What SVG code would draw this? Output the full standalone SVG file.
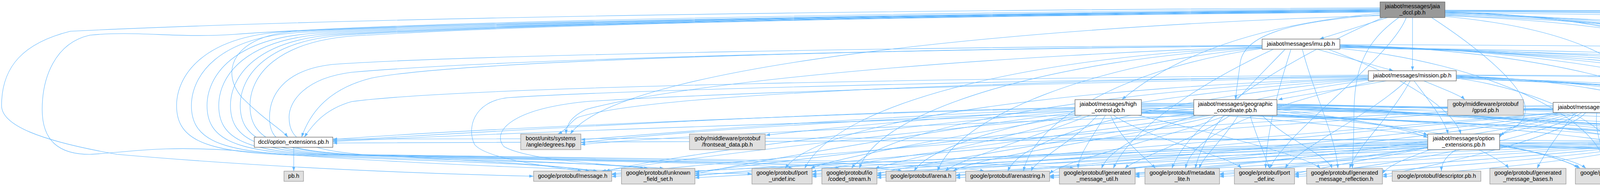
<svg xmlns="http://www.w3.org/2000/svg" width="7600" height="476" viewBox="0 0 7600 476">
<defs>
<marker id="a" viewBox="0 0 10 7" refX="10" refY="3.5" markerWidth="11" markerHeight="8" markerUnits="userSpaceOnUse" orient="auto"><path d="M0,0L10,3.5L0,7z" fill="#63b8ff"/></marker>
<style>
.e path{fill:none;stroke:#63b8ff;stroke-width:1.1;marker-end:url(#a)}
.w{fill:#ffffff;stroke:#666666;stroke-width:1.3}
.g{fill:#e0e0e0;stroke:#999999;stroke-width:1.3}
.r{fill:#999999;stroke:#666666;stroke-width:1.3}
text{font-family:"Liberation Sans",Arial,sans-serif;font-size:14.67px;fill:#000000;text-anchor:middle}
.l{text-anchor:start}
</style>
</defs>
<rect width="7600" height="476" fill="#ffffff"/>
<g id="edges" class="e">
<path d="M3552,45 C3500,62 3430,83 3378,100"/>
<path d="M3616,45 L3616,181"/>
<path d="M3533,34 C3250,60 3020,130 2872,255"/>
<path d="M3533,38 C3300,55 3185,90 3175,160 C3170,200 3165,230 3163,255"/>
<path d="M3581,45 C3490,110 3466,180 3466,300 C3466,380 3462,410 3462,431"/>
<path d="M3665,45 C3780,120 3905,220 3905,280 C3905,320 3860,336 3839,346"/>
<path d="M3699,36 C4000,45 4370,70 4375,160 C4378,230 4260,250 4191,261"/>
<path d="M3699,40 C4050,55 4400,90 4400,200 C4400,280 4310,320 4283,351"/>
<path d="M3699,42 C4000,70 4200,150 4210,270 C4215,350 4150,380 4135,431"/>
<path d="M3699,27 C5000,30 6600,50 7411,95"/>
<path d="M3533,24 C2500,35 1200,55 760,80 C600,90 560,180 620,250 C680,310 720,330 737,351"/>
<path d="M3533,20 C2500,25 1000,40 180,80 C60,110 4,170 4,270 C4,320 100,360 300,395 C700,430 1100,445 1366,451"/>
<path d="M3533,22 C2600,30 1100,50 600,88 C450,98 350,78 230,90 C140,110 108,200 108,280 C108,360 150,395 230,395 C330,390 400,372 600,385 C1000,420 1600,440 1925,445"/>
<path d="M3533,25 C2400,35 1400,55 752,80 C512,88 452,200 452,270 C452,350 512,385 702,395 C1000,410 1400,415 1510,438"/>
<path d="M3533,26 C2400,36 1400,56 790,82 C550,90 490,200 490,270 C490,350 550,385 740,395 C1100,410 1550,415 1650,431"/>
<path d="M3533,27 C2400,37 1400,57 830,84 C590,92 530,200 530,270 C530,350 590,385 780,395 C1300,410 1930,415 2030,431"/>
<path d="M3533,28 C2400,38 1400,58 860,86 C620,94 560,200 560,270 C560,350 620,385 810,395 C1400,410 2050,415 2150,431"/>
<path d="M3533,29 C2400,39 1400,59 890,87 C650,95 590,200 590,270 C590,350 650,385 840,395 C1500,410 2210,415 2310,438"/>
<path d="M3533,30 C2400,40 1400,60 915,88 C675,96 615,200 615,270 C615,350 675,385 865,395 C1700,410 2420,415 2520,438"/>
<path d="M3533,31 C2400,41 1400,61 940,90 C700,98 640,200 640,270 C640,350 700,385 890,395 C1900,410 2650,415 2750,431"/>
<path d="M3540,45 C3300,150 3050,300 3000,431"/>
<path d="M3600,45 C3560,150 3300,330 3250,431"/>
<path d="M3699,30 C4300,45 4600,200 4500,438"/>
<path d="M3699,31 C4400,50 4800,250 4720,438"/>
<path d="M3699,33 C4500,50 4950,250 4930,431"/>
<path d="M3699,34 C4600,50 5150,250 5140,431"/>
<path d="M3699,37 C4800,60 5600,200 5800,343"/>
<path d="M3533,40 C2800,60 1600,150 1460,343"/>
<path d="M3699,39 C4600,70 5200,200 5300,343"/>
<path d="M3699,26 C5000,28 6500,45 6900,70 C7300,90 7370,200 7370,300 C7370,380 7000,420 6300,435 C6000,442 5900,448 5808,451"/>
<path d="M3699,28 C5000,35 6400,70 6800,95 C7000,110 7040,200 7040,300 C7040,380 6700,405 6200,415 C5900,420 5650,425 5585,438"/>
<path d="M3699,29 C5000,40 6300,80 6700,110 C6950,130 6990,200 6990,290 C6990,370 6500,400 6000,410 C5700,415 5500,420 5470,431"/>
<path d="M3699,32 C5000,45 6200,100 6600,150 C6750,170 6770,250 6770,300 C6770,370 6300,395 5700,400 C5500,405 5330,420 5290,438"/>
<path d="M3372,126 L3567,181"/>
<path d="M3231,118 C2400,125 1200,150 950,200 C830,230 790,300 772,351"/>
<path d="M3231,120 C2600,140 1800,200 1500,280 C1460,300 1450,320 1449,343"/>
<path d="M3231,116 C2400,120 1200,140 850,165 C720,180 690,250 690,300 C690,360 720,385 900,395 C1200,410 1400,420 1530,438"/>
<path d="M3231,117 C2400,125 1300,150 900,185 C780,200 740,260 740,300 C740,360 780,390 1000,400 C1300,410 1550,420 1700,431"/>
<path d="M3231,121 C2700,140 2150,250 2060,431"/>
<path d="M3231,122 C2700,150 2250,280 2200,431"/>
<path d="M3231,123 C2800,160 2450,300 2400,438"/>
<path d="M3231,124 C2900,170 2650,300 2620,438"/>
<path d="M3260,126 C3100,200 2900,320 2850,431"/>
<path d="M3290,126 C3200,220 3080,330 3060,431"/>
<path d="M3334,126 C3360,230 3420,350 3425,431"/>
<path d="M3305,126 C3265,250 3242,350 3240,431"/>
<path d="M3430,124 C3800,160 4100,300 4110,431"/>
<path d="M3430,115 C4000,130 4450,250 4470,438"/>
<path d="M3430,116 C4100,130 4650,250 4680,438"/>
<path d="M3430,117 C4200,135 4850,250 4890,431"/>
<path d="M3430,118 C4300,140 5050,250 5100,431"/>
<path d="M3430,119 C4500,140 5500,250 5760,343"/>
<path d="M3430,120 C4600,150 5200,250 5260,438"/>
<path d="M3430,121 C4800,140 6100,200 6150,300 C6200,380 5700,410 5575,438"/>
<path d="M3430,122 C4800,150 6000,220 6050,300 C6100,380 5550,400 5450,431"/>
<path d="M3430,114 C5000,120 6500,140 6580,250 C6640,350 6000,445 5808,447"/>
<path d="M3400,126 C3600,200 3720,280 3740,343"/>
<path d="M3549,207 C3420,230 3320,245 3272,255"/>
<path d="M3645,207 C3700,230 3740,245 3750,255"/>
<path d="M3620,207 C3660,260 3700,310 3707,343"/>
<path d="M3600,207 C3500,300 3320,380 3290,431"/>
<path d="M3610,207 C3560,300 3470,380 3455,431"/>
<path d="M3503,192 C2500,200 1200,220 900,260 C830,280 800,320 779,351"/>
<path d="M3503,194 C2800,205 1700,230 1480,300 C1460,310 1455,330 1428,343"/>
<path d="M3503,196 C2600,205 1600,230 1300,250 C1210,260 1195,330 1215,370 C1240,400 1350,420 1490,438"/>
<path d="M3503,198 C2700,210 1800,240 1500,260 C1300,280 1260,340 1290,375 C1350,410 1550,420 1660,431"/>
<path d="M3503,200 C2800,220 2100,300 2010,431"/>
<path d="M3503,201 C2800,230 2250,330 2180,431"/>
<path d="M3503,202 C2900,240 2400,340 2340,438"/>
<path d="M3503,203 C3000,250 2620,340 2580,438"/>
<path d="M3503,205 C3100,260 2850,350 2820,431"/>
<path d="M3520,207 C3200,280 3050,350 3035,431"/>
<path d="M3728,200 C3950,230 4150,330 4160,431"/>
<path d="M3728,194 C4200,210 4500,320 4490,438"/>
<path d="M3728,195 C4300,215 4700,320 4700,438"/>
<path d="M3728,196 C4400,220 4900,320 4910,431"/>
<path d="M3728,197 C4500,225 5100,320 5120,431"/>
<path d="M3728,198 C4700,230 5500,300 5747,355"/>
<path d="M3728,199 C4700,240 5250,330 5268,438"/>
<path d="M3728,193 C4900,200 5900,240 5920,320 C5940,390 5650,410 5565,438"/>
<path d="M3728,201 C4800,240 5400,330 5420,431"/>
<path d="M3728,192 C5000,195 6300,220 6400,300 C6450,370 6000,430 5808,443"/>
<path d="M2752,280 C2400,300 2100,330 1960,346"/>
<path d="M2752,275 C2000,290 1200,340 852,360"/>
<path d="M2752,278 C2200,300 1700,340 1487,358"/>
<path d="M2752,285 C2300,320 1700,400 1550,438"/>
<path d="M2752,288 C2400,330 1900,420 1779,445"/>
<path d="M2760,295 C2500,340 2150,400 2075,431"/>
<path d="M2770,295 C2600,350 2300,410 2240,431"/>
<path d="M2790,295 C2650,350 2450,410 2420,438"/>
<path d="M2810,295 C2750,360 2650,410 2640,438"/>
<path d="M2830,295 C2790,360 2760,400 2760,431"/>
<path d="M2843,295 C2870,360 2930,400 2958,431"/>
<path d="M2850,295 C2950,360 3150,400 3178,431"/>
<path d="M2914,295 C3100,340 3350,400 3380,431"/>
<path d="M2922,280 C3500,320 4000,380 4060,431"/>
<path d="M2922,275 C3300,290 3600,320 3655,346"/>
<path d="M2922,282 C3800,300 4400,380 4450,438"/>
<path d="M2922,284 C3900,305 4600,380 4650,438"/>
<path d="M2922,286 C4000,310 4800,380 4850,431"/>
<path d="M2922,288 C4100,315 5000,390 5060,431"/>
<path d="M2922,290 C4300,320 5200,400 5250,438"/>
<path d="M2922,268 C4300,290 5500,350 5545,438"/>
<path d="M2922,270 C4300,300 5300,380 5360,431"/>
<path d="M2922,266 C4500,280 5700,330 5680,431"/>
<path d="M2922,264 C4500,280 5600,320 5747,360"/>
<path d="M3056,270 C2200,285 1200,330 852,357"/>
<path d="M3056,275 C2300,295 1700,340 1487,365"/>
<path d="M3056,280 C2500,310 1800,400 1540,438"/>
<path d="M3060,290 C2600,340 1950,420 1779,440"/>
<path d="M3090,295 C2700,350 2200,410 2079,440"/>
<path d="M3100,295 C2800,350 2400,410 2245,445"/>
<path d="M3120,295 C2900,350 2500,400 2440,438"/>
<path d="M3140,295 C3000,350 2720,410 2687,445"/>
<path d="M3150,295 C3050,360 2900,410 2880,431"/>
<path d="M3170,295 C3130,360 3080,400 3070,431"/>
<path d="M3200,295 C3220,360 3240,400 3250,431"/>
<path d="M3230,295 C3300,360 3400,400 3410,431"/>
<path d="M3269,285 C3600,320 4000,390 4040,431"/>
<path d="M3269,280 C3450,300 3600,330 3655,352"/>
<path d="M3269,270 C3900,290 4400,380 4430,438"/>
<path d="M3269,272 C4000,295 4600,380 4630,438"/>
<path d="M3269,274 C4100,300 4800,390 4830,431"/>
<path d="M3269,276 C4200,305 5000,390 5040,431"/>
<path d="M3269,268 C4400,285 5600,320 5747,365"/>
<path d="M3269,278 C4300,310 5200,400 5245,438"/>
<path d="M3269,266 C4500,290 5500,360 5540,438"/>
<path d="M3269,279 C4300,320 5300,390 5340,431"/>
<path d="M4191,270 C5000,280 5900,320 6077,350"/>
<path d="M4033,288 C3990,340 3950,400 3935,431"/>
<path d="M4088,288 C4080,340 4110,400 4118,431"/>
<path d="M3976,270 C3000,280 1500,330 852,362"/>
<path d="M3976,272 C3000,290 1800,340 1487,370"/>
<path d="M3976,276 C3200,300 2000,400 1566,445"/>
<path d="M3976,278 C3200,310 2100,420 1779,450"/>
<path d="M3990,288 C3500,330 2400,420 2079,445"/>
<path d="M4000,288 C3600,330 2600,420 2245,448"/>
<path d="M4010,288 C3700,340 2800,420 2447,448"/>
<path d="M4020,288 C3800,340 3000,420 2687,450"/>
<path d="M4030,288 C3850,350 3200,420 2906,448"/>
<path d="M4040,288 C3900,350 3400,420 3122,448"/>
<path d="M4050,288 C3950,350 3600,420 3314,448"/>
<path d="M4060,288 C4000,350 3700,420 3539,448"/>
<path d="M3995,288 C3900,310 3850,330 3839,352"/>
<path d="M4191,275 C4400,290 4480,380 4490,438"/>
<path d="M4191,277 C4500,295 4690,380 4700,438"/>
<path d="M4191,279 C4600,300 4900,380 4920,431"/>
<path d="M4191,281 C4700,300 5100,380 5130,431"/>
<path d="M4191,272 C4900,280 5600,320 5747,370"/>
<path d="M4191,274 C4800,290 5150,330 5251,352"/>
<path d="M4191,283 C4800,310 5250,400 5275,438"/>
<path d="M4191,284 C5000,300 5550,380 5560,438"/>
<path d="M4191,285 C4900,310 5400,390 5420,431"/>
<path d="M4191,286 C5100,300 5700,380 5720,431"/>
<path d="M4247,377 C4220,400 4175,420 4162,431"/>
<path d="M4298,377 C4380,400 4430,420 4455,438"/>
<path d="M4330,377 C4450,400 4600,420 4640,438"/>
<path d="M4167,360 C3000,355 1500,355 852,366"/>
<path d="M4167,362 C3200,370 2000,420 1566,452"/>
<path d="M4167,364 C3300,375 2200,430 1779,455"/>
<path d="M4167,366 C3400,380 2400,430 2079,452"/>
<path d="M4167,368 C3500,385 2600,430 2245,455"/>
<path d="M4167,370 C3600,390 2800,435 2447,455"/>
<path d="M4167,372 C3700,395 3000,435 2687,455"/>
<path d="M4167,374 C3800,400 3200,435 2906,452"/>
<path d="M4167,375 C3900,405 3400,435 3122,452"/>
<path d="M4180,377 C4000,405 3600,435 3314,452"/>
<path d="M4190,377 C4050,410 3800,435 3539,452"/>
<path d="M4365,365 C4600,380 4850,410 4880,431"/>
<path d="M4365,367 C4700,385 5050,410 5090,431"/>
<path d="M4365,369 C4800,385 5200,410 5255,438"/>
<path d="M4365,371 C4900,390 5350,410 5380,431"/>
<path d="M4365,373 C5000,390 5500,410 5545,438"/>
<path d="M4365,375 C5100,395 5600,410 5650,431"/>
<path d="M4365,362 C5000,365 5600,365 5747,372"/>
<path d="M4365,360 C4800,355 5100,355 5251,362"/>
<path d="M3728,383 C3700,400 3690,420 3690,438"/>
<path d="M3786,383 C3820,400 3855,420 3862,431"/>
<path d="M3655,358 C2800,352 1500,350 852,356"/>
<path d="M3655,362 C3000,372 2000,430 1566,447"/>
<path d="M3655,364 C3000,378 2100,430 1779,448"/>
<path d="M3655,366 C3100,380 2300,430 2079,448"/>
<path d="M3655,368 C3100,385 2500,430 2245,450"/>
<path d="M3655,370 C3200,390 2700,430 2447,450"/>
<path d="M3655,372 C3300,392 2900,430 2687,452"/>
<path d="M3655,374 C3400,395 3100,425 2906,445"/>
<path d="M3655,376 C3500,400 3300,425 3122,445"/>
<path d="M3655,378 C3550,400 3400,425 3314,445"/>
<path d="M3662,383 C3600,405 3550,425 3539,445"/>
<path d="M3839,370 C3950,390 4030,420 4045,431"/>
<path d="M3839,372 C4600,385 5300,410 5350,431"/>
<path d="M3839,374 C4500,385 5200,410 5240,438"/>
<path d="M3839,376 C4700,390 5500,410 5535,438"/>
<path d="M3839,366 C4700,375 5550,400 5620,431"/>
<path d="M752,377 L752,438"/>
</g>
<g id="node-jaia_dccl"><rect class="r" x="3533" y="5" width="166" height="40"/><text x="3616" y="21.3">jaiabot/messages/jaia</text><text x="3616" y="36.6">_dccl.pb.h</text></g>
<g id="node-imu"><rect class="w" x="3231" y="100" width="199" height="26"/><text x="3330.5" y="117.3">jaiabot/messages/imu.pb.h</text></g>
<g id="node-celsius"><rect class="g" x="7411" y="94" width="184" height="40"/><text class="l" x="7421" y="110.3">boost/units/systems</text><text class="l" x="7421" y="125.6">/temperature/celsius.hpp</text></g>
<g id="node-mission"><rect class="w" x="3503" y="181" width="225" height="26"/><text x="3615.5" y="198.3">jaiabot/messages/mission.pb.h</text></g>
<g id="node-high_control"><rect class="w" x="2752" y="255" width="170" height="40"/><text x="2837" y="271.3">jaiabot/messages/high</text><text x="2837" y="286.6">_control.pb.h</text></g>
<g id="node-geographic"><rect class="w" x="3056" y="255" width="213" height="40"/><text x="3162.5" y="271.3">jaiabot/messages/geographic</text><text x="3162.5" y="286.6">_coordinate.pb.h</text></g>
<g id="node-gpsd"><rect class="g" x="3706" y="255" width="194" height="40"/><text x="3803" y="271.3">goby/middleware/protobuf</text><text x="3803" y="286.6">/gpsd.pb.h</text></g>
<g id="node-health"><rect class="w" x="3976" y="262" width="215" height="26"/><text x="4083.5" y="279.3">jaiabot/messages/health.pb.h</text></g>
<g id="node-dccl_option_extensions"><rect class="w" x="651" y="351" width="201" height="26"/><text x="751.5" y="368.3">dccl/option_extensions.pb.h</text></g>
<g id="node-degrees"><rect class="g" x="1333" y="343" width="154" height="40"/><text x="1410" y="359.3">boost/units/systems</text><text x="1410" y="374.6">/angle/degrees.hpp</text></g>
<g id="node-frontseat_data"><rect class="g" x="1765" y="343" width="194" height="40"/><text x="1862" y="359.3">goby/middleware/protobuf</text><text x="1862" y="374.6">/frontseat_data.pb.h</text></g>
<g id="node-option_extensions"><rect class="w" x="3655" y="343" width="184" height="40"/><text x="3747" y="359.3">jaiabot/messages/option</text><text x="3747" y="374.6">_extensions.pb.h</text></g>
<g id="node-link"><rect class="w" x="4167" y="351" width="198" height="26"/><text x="4266" y="368.3">jaiabot/messages/link.pb.h</text></g>
<g id="node-byte"><rect class="g" x="5251" y="343" width="167" height="40"/><text x="5334.5" y="359.3">boost/units/base_units</text><text x="5334.5" y="374.6">/information/byte.hpp</text></g>
<g id="node-si"><rect class="g" x="5747" y="343" width="154" height="40"/><text x="5824" y="359.3">boost/units/systems</text><text x="5824" y="374.6">/si.hpp</text></g>
<g id="node-coroner"><rect class="g" x="6077" y="343" width="194" height="40"/><text x="6174" y="359.3">goby/middleware/protobuf</text><text x="6174" y="374.6">/coroner.pb.h</text></g>
<g id="node-pb"><rect class="g" x="727" y="438" width="50" height="26"/><text x="752" y="455.3">pb.h</text></g>
<g id="node-message"><rect class="g" x="1366" y="438" width="200" height="26"/><text x="1466" y="455.3">google/protobuf/message.h</text></g>
<g id="node-unknown_field_set"><rect class="g" x="1591" y="431" width="188" height="40"/><text x="1685" y="447.3">google/protobuf/unknown</text><text x="1685" y="462.6">_field_set.h</text></g>
<g id="node-port_undef"><rect class="g" x="1925" y="431" width="154" height="40"/><text x="2002" y="447.3">google/protobuf/port</text><text x="2002" y="462.6">_undef.inc</text></g>
<g id="node-coded_stream"><rect class="g" x="2104" y="431" width="141" height="40"/><text x="2174.5" y="447.3">google/protobuf/io</text><text x="2174.5" y="462.6">/coded_stream.h</text></g>
<g id="node-arena"><rect class="g" x="2268" y="438" width="179" height="26"/><text x="2357.5" y="455.3">google/protobuf/arena.h</text></g>
<g id="node-arenastring"><rect class="g" x="2472" y="438" width="215" height="26"/><text x="2579.5" y="455.3">google/protobuf/arenastring.h</text></g>
<g id="node-generated_message_util"><rect class="g" x="2712" y="431" width="194" height="40"/><text x="2809" y="447.3">google/protobuf/generated</text><text x="2809" y="462.6">_message_util.h</text></g>
<g id="node-metadata_lite"><rect class="g" x="2931" y="431" width="191" height="40"/><text x="3026.5" y="447.3">google/protobuf/metadata</text><text x="3026.5" y="462.6">_lite.h</text></g>
<g id="node-port_def"><rect class="g" x="3160" y="431" width="154" height="40"/><text x="3237" y="447.3">google/protobuf/port</text><text x="3237" y="462.6">_def.inc</text></g>
<g id="node-generated_message_reflection"><rect class="g" x="3345" y="431" width="194" height="40"/><text x="3442" y="447.3">google/protobuf/generated</text><text x="3442" y="462.6">_message_reflection.h</text></g>
<g id="node-descriptor"><rect class="g" x="3564" y="438" width="227" height="26"/><text x="3677.5" y="455.3">google/protobuf/descriptor.pb.h</text></g>
<g id="node-generated_message_bases"><rect class="g" x="3814" y="431" width="195" height="40"/><text x="3911.5" y="447.3">google/protobuf/generated</text><text x="3911.5" y="462.6">_message_bases.h</text></g>
<g id="node-extension_set"><rect class="g" x="4033" y="431" width="194" height="40"/><text x="4130" y="447.3">google/protobuf/extension</text><text x="4130" y="462.6">_set.h</text></g>
<g id="node-quantity"><rect class="g" x="4402" y="438" width="179" height="26"/><text x="4491.5" y="455.3">boost/units/quantity.hpp</text></g>
<g id="node-absolute"><rect class="g" x="4606" y="438" width="182" height="26"/><text x="4697" y="455.3">boost/units/absolute.hpp</text></g>
<g id="node-dimensionless_type"><rect class="g" x="4813" y="431" width="192" height="40"/><text x="4909" y="447.3">boost/units/dimensionless</text><text x="4909" y="462.6">_type.hpp</text></g>
<g id="node-make_scaled_unit"><rect class="g" x="5029" y="431" width="183" height="40"/><text x="5120.5" y="447.3">boost/units/make_scaled</text><text x="5120.5" y="462.6">_unit.hpp</text></g>
<g id="node-limits"><rect class="g" x="5237" y="438" width="59" height="26"/><text x="5266.5" y="455.3">limits</text></g>
<g id="node-repeated_field"><rect class="g" x="5320" y="431" width="186" height="40"/><text x="5413" y="447.3">google/protobuf/repeated</text><text x="5413" y="462.6">_field.h</text></g>
<g id="node-string"><rect class="g" x="5530" y="438" width="59" height="26"/><text x="5559.5" y="455.3">string</text></g>
<g id="node-generated_enum_reflection"><rect class="g" x="5613" y="431" width="195" height="40"/><text x="5710.5" y="447.3">google/protobuf/generated</text><text x="5710.5" y="462.6">_enum_reflection.h</text></g>
</svg>
